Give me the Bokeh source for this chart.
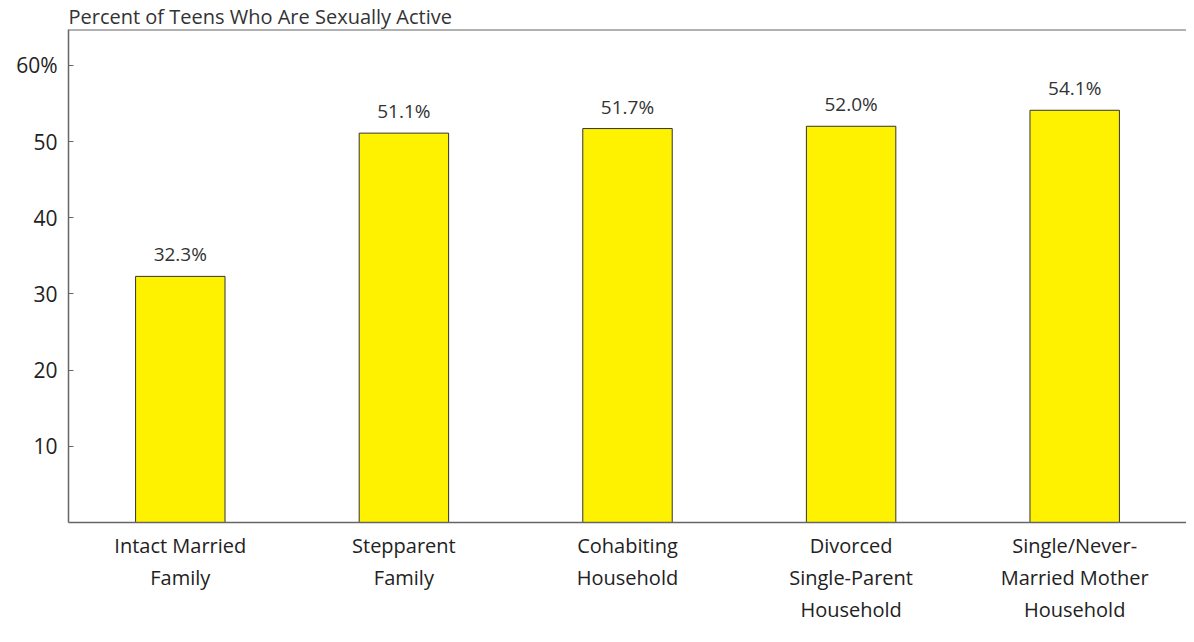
from bokeh.plotting import figure
from bokeh.models import ColumnDataSource, Span, FixedTicker, LabelSet
from bokeh.core.properties import value
from bokeh.embed import file_html
from bokeh.resources import INLINE

categories = ["Intact Married\nFamily", "Stepparent\nFamily", "Cohabiting\nHousehold",
              "Divorced\nSingle-Parent\nHousehold", "Single/Never-\nMarried Mother\nHousehold"]
values = [32.3, 51.1, 51.7, 52.0, 54.1]
value_labels = ["32.3%", "51.1%", "51.7%", "52.0%", "54.1%"]
y_ticks = [10, 20, 30, 40, 50, 60]
y_tick_labels = ["10", "20", "30", "40", "50", "60%"]
title_text = "Percent of Teens Who Are Sexually Active"

FONT = "Open Sans"
Y_END = 64.7

src = ColumnDataSource(dict(cat=categories, val=values, lab=value_labels))

p = figure(x_range=categories, y_range=(0, Y_END), width=1186, height=626,
           output_backend="svg", toolbar_location=None,
           min_border_left=68, min_border_right=0, min_border_top=12, min_border_bottom=0)

p.vbar(x="cat", top="val", width=0.4, source=src, fill_color="#FFF200",
       line_color="#333333", line_width=1)

labels = LabelSet(x="cat", y="val", text="lab", source=src, text_align="center",
                  text_baseline="bottom", y_offset=9, text_font=value(FONT),
                  text_font_size="19px", text_color="#333333")
p.add_layout(labels)

p.title.text = title_text
p.title.align = "left"
p.title.text_font = FONT
p.title.text_font_size = "20px"
p.title.text_font_style = "normal"
p.title.text_color = "#333333"
p.title.offset = 0
p.title.standoff = 0

p.add_layout(Span(location=Y_END, dimension="width", line_color="#666666", line_width=2))

p.grid.visible = False
p.outline_line_color = "white"
p.outline_line_width = 2
p.background_fill_color = "white"
p.border_fill_color = "white"

ya = p.yaxis[0]
ya.ticker = FixedTicker(ticks=y_ticks)
ya.major_label_overrides = {t: l for t, l in zip(y_ticks, y_tick_labels)}
ya.major_tick_in = 5
ya.major_tick_out = 0
ya.minor_tick_line_color = None
ya.axis_line_color = "#666666"
ya.axis_line_width = 1.5
ya.major_tick_line_color = "#666666"
ya.major_label_text_font = FONT
ya.major_label_text_font_size = "21px"
ya.major_label_text_color = "#222222"
ya.major_label_standoff = 11

xa = p.xaxis[0]
xa.major_tick_line_color = None
xa.axis_line_color = "#666666"
xa.axis_line_width = 1.5
xa.major_label_text_font = FONT
xa.major_label_text_font_size = "20px"
xa.major_label_text_color = "#222222"
xa.major_label_standoff = 3

open("out.html", "w").write(file_html(p, INLINE))
